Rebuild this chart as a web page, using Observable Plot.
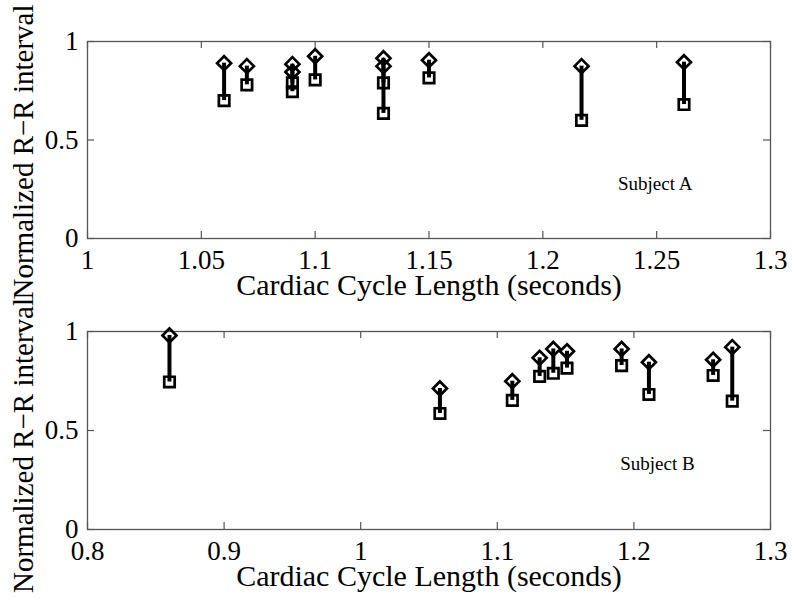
<!DOCTYPE html>
<html><head><meta charset="utf-8">
<script src="https://cdn.jsdelivr.net/npm/d3@7"></script>
<script src="https://cdn.jsdelivr.net/npm/@observablehq/plot@0.6"></script>
<style>body{margin:0;background:#fff;} #c{width:793px;} svg{overflow:visible;display:block} svg text{font-family:'Liberation Serif','Times New Roman',serif !important;}</style>
</head><body><div id="c"></div>
<script>
// Subject A
const xA       = [1.06, 1.07, 1.09, 1.09, 1.10, 1.13, 1.13, 1.15, 1.217, 1.262];
const diamondA = [0.89, 0.875, 0.885, 0.845, 0.925, 0.915, 0.875, 0.905, 0.875, 0.895];
const squareA  = [0.70, 0.78, 0.79, 0.745, 0.805, 0.79, 0.635, 0.815, 0.60, 0.68];
// Subject B
const xB       = [0.86, 1.058, 1.111, 1.131, 1.141, 1.151, 1.191, 1.211, 1.258, 1.272];
const diamondB = [0.98, 0.712, 0.749, 0.867, 0.912, 0.90, 0.912, 0.845, 0.857, 0.921];
const squareB  = [0.745, 0.586, 0.652, 0.773, 0.789, 0.815, 0.828, 0.682, 0.778, 0.648];

const xTicksA = [1, 1.05, 1.1, 1.15, 1.2, 1.25, 1.3];
const xTickLabelsA = ["1", "1.05", "1.1", "1.15", "1.2", "1.25", "1.3"];
const xTicksB = [0.8, 0.9, 1, 1.1, 1.2, 1.3];
const xTickLabelsB = ["0.8", "0.9", "1", "1.1", "1.2", "1.3"];
const yTicks = [0, 0.5, 1];
const yTickLabels = ["0", "0.5", "1"];

const xLabel = "Cardiac Cycle Length (seconds)";
const yLabel = "Normalized R\u2212R interval";
const subjects = ["Subject A", "Subject B"];
const subjectPosA = [1.233, 0.279];
const subjectPosB = [1.190, 0.333];

const FONT = "'Liberation Serif', 'Times New Roman', serif";

function panel(o) {
  const data = o.xs.map((x, i) => ({x, d: o.ds[i], s: o.ss[i]}));
  const W = 793, mL = 87, mR = 23;
  const innerW = W - mL - mR, innerH = o.height - o.marginTop - o.marginBottom;
  const xLab = new Map(o.xTicks.map((t, i) => [t, o.xTickLabels[i]]));
  const yLab = new Map(yTicks.map((t, i) => [t, yTickLabels[i]]));
  const tk = 7, axc = "#555";
  return Plot.plot({
    width: W, height: o.height, marginLeft: mL, marginRight: mR,
    marginTop: o.marginTop, marginBottom: o.marginBottom,
    style: {fontFamily: FONT, background: "transparent", overflow: "visible", color: "black"},
    x: {domain: o.xDomain, axis: null},
    y: {domain: [0, 1], axis: null},
    marks: [
      Plot.frame({stroke: axc, strokeWidth: 1.3}),
      Plot.tickX(o.xTicks, {x: d => d, insetTop: innerH - tk, stroke: axc, strokeWidth: 1.2}),
      Plot.tickX(o.xTicks, {x: d => d, insetBottom: innerH - tk, stroke: axc, strokeWidth: 1.2}),
      Plot.tickY(yTicks, {y: d => d, insetRight: innerW - tk, stroke: axc, strokeWidth: 1.2}),
      Plot.tickY(yTicks, {y: d => d, insetLeft: innerW - tk, stroke: axc, strokeWidth: 1.2}),
      Plot.axisX({ticks: o.xTicks, label: null, tickSize: 0, tickPadding: 11, fontSize: 27, fontFamily: FONT, fill: "black", tickFormat: d => xLab.get(d)}),
      Plot.axisY({ticks: yTicks, label: null, tickSize: 0, tickPadding: 9, fontSize: 27, fontFamily: FONT, fill: "black", tickFormat: d => yLab.get(d)}),
      Plot.text([xLabel], {text: d => d, frameAnchor: "bottom", textAnchor: "middle", dy: 56, fontSize: 30, fontFamily: FONT, fill: "black"}),
      Plot.text([yLabel], {text: d => d, frameAnchor: "left", textAnchor: "middle", rotate: -90, dx: -64, dy: o.yLabelDy, fontSize: 29, fontFamily: FONT, fill: "black"}),
      Plot.text([o.subject], {text: d => d, x: () => o.subjPos[0], y: () => o.subjPos[1], textAnchor: "start", fontSize: 19, fontFamily: FONT, fill: "black"}),
      Plot.ruleX(data, {x: "x", y1: "d", y2: "s", stroke: "black", strokeWidth: 4}),
      Plot.dot(data, {x: "x", y: "s", symbol: "square", r: 5.9, stroke: "black", strokeWidth: 2.7, fill: "none"}),
      Plot.dot(data, {x: "x", y: "d", symbol: "diamond2", r: 6.3, stroke: "black", strokeWidth: 2.7, fill: "none"})
    ]
  });
}

const c = document.getElementById("c");
c.append(panel({xs: xA, ds: diamondA, ss: squareA, xDomain: [1, 1.3], xTicks: xTicksA, xTickLabels: xTickLabelsA,
  height: 300, marginTop: 41, marginBottom: 62, yLabelDy: 12, subject: subjects[0], subjPos: subjectPosA}));
c.append(panel({xs: xB, ds: diamondB, ss: squareB, xDomain: [0.8, 1.3], xTicks: xTicksB, xTickLabels: xTickLabelsB,
  height: 299, marginTop: 31, marginBottom: 70, yLabelDy: 15, subject: subjects[1], subjPos: subjectPosB}));
</script>
</body></html>
